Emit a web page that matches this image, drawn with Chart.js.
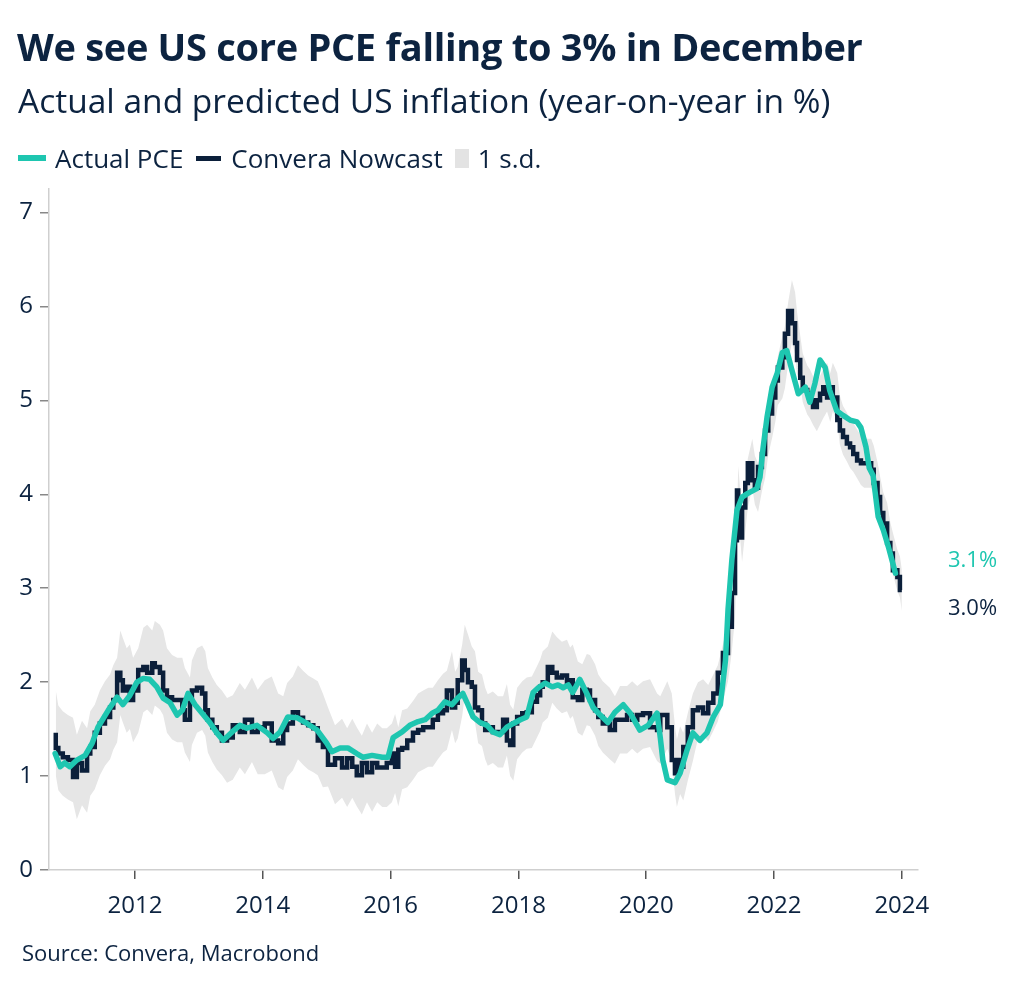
<!DOCTYPE html>
<html>
<head>
<meta charset="utf-8">
<script src="https://cdn.jsdelivr.net/npm/chart.js@4.4.1/dist/chart.umd.min.js"></script>
<style>
  html, body { margin:0; padding:0; background:#ffffff; }
  body { width:1024px; height:989px; position:relative; overflow:hidden; font-family:"Open Sans","Noto Sans",sans-serif; color:#0c2340; }
  #chart { position:absolute; left:0; top:0; }
  .txt { position:absolute; white-space:nowrap; }
  #title { left:17px; top:23px; font-size:38px; font-weight:700; line-height:46px; letter-spacing:-0.3px; }
  #subtitle { left:18px; top:80px; font-size:33.5px; font-weight:400; line-height:40px; }
  #legend { left:18px; top:142px; font-size:26px; line-height:32px; display:flex; align-items:center; }
  .sw { display:inline-block; }
  #source { left:22px; top:938px; font-size:22px; line-height:28px; }
</style>
</head>
<body>
<canvas id="chart" width="1024" height="989"></canvas>
<div class="txt" id="title">We see US core PCE falling to 3% in December</div>
<div class="txt" id="subtitle">Actual and predicted US inflation (year-on-year in %)</div>
<div class="txt" id="legend">
  <span class="sw" style="width:28px;height:6px;background:#1ec6b0;margin-right:9px;"></span><span>Actual PCE</span>
  <span class="sw" style="width:25px;height:5px;background:#0b1f3a;margin-left:13px;margin-right:10px;"></span><span>Convera Nowcast</span>
  <span class="sw" style="width:14px;height:19px;background:#e3e3e3;margin-left:12px;margin-right:9px;"></span><span>1 s.d.</span>
</div>
<div class="txt" id="source">Source: Convera, Macrobond</div>
<script>
// ---- Data (decimal years) ----
const xTickYears = [2012, 2014, 2016, 2018, 2020, 2022, 2024];
const yTickValues = [0, 1, 2, 3, 4, 5, 6, 7];

const pceYears = [2010.75,2010.83,2010.90,2010.98,2011.09,2011.22,2011.33,2011.42,2011.58,2011.72,2011.81,2011.92,
  2012.03,2012.13,2012.23,2012.34,2012.44,2012.55,2012.66,2012.74,2012.83,2012.94,
  2013.05,2013.17,2013.28,2013.38,2013.52,2013.64,2013.75,2013.91,
  2014.07,2014.16,2014.27,2014.39,2014.54,2014.69,2014.85,
  2015.00,2015.08,2015.21,2015.33,2015.47,2015.57,2015.71,2015.87,2015.96,
  2016.04,2016.18,2016.30,2016.43,2016.54,2016.65,2016.74,2016.85,2016.96,
  2017.05,2017.13,2017.21,2017.29,2017.40,2017.51,2017.60,2017.71,2017.82,2017.92,
  2018.03,2018.13,2018.23,2018.31,2018.42,2018.53,2018.62,2018.70,2018.78,2018.85,2018.96,
  2019.07,2019.17,2019.28,2019.40,2019.51,2019.64,2019.75,2019.90,
  2020.03,2020.17,2020.22,2020.26,2020.33,2020.45,2020.53,2020.64,2020.73,2020.84,2020.95,
  2021.05,2021.16,2021.24,2021.28,2021.34,2021.42,2021.50,2021.59,2021.73,2021.78,2021.83,2021.89,2021.97,
  2022.05,2022.13,2022.20,2022.28,2022.38,2022.49,2022.56,2022.64,2022.72,2022.80,2022.87,2022.98,
  2023.08,2023.19,2023.30,2023.36,2023.44,2023.49,2023.55,2023.63,2023.71,2023.79,2023.90];
const pceValues = [1.24,1.10,1.14,1.10,1.17,1.22,1.35,1.52,1.70,1.84,1.76,1.86,
  2.00,2.04,2.03,1.95,1.83,1.78,1.65,1.70,1.88,1.76,
  1.67,1.57,1.46,1.38,1.47,1.54,1.51,1.54,
  1.46,1.40,1.47,1.63,1.62,1.56,1.49,
  1.35,1.26,1.30,1.30,1.24,1.20,1.22,1.20,1.20,
  1.41,1.47,1.54,1.58,1.60,1.67,1.70,1.79,1.76,
  1.83,1.88,1.76,1.63,1.57,1.54,1.47,1.44,1.52,1.56,
  1.60,1.63,1.89,1.94,1.99,1.95,1.97,1.94,1.97,1.89,2.03,
  1.88,1.73,1.65,1.57,1.68,1.76,1.67,1.49,
  1.54,1.67,1.41,1.17,0.96,0.93,1.03,1.28,1.46,1.38,1.46,
  1.63,1.76,2.23,2.77,3.30,3.83,3.97,4.01,4.06,4.18,4.50,4.82,5.14,
  5.29,5.51,5.53,5.32,5.07,5.14,4.98,5.18,5.43,5.35,5.11,4.89,
  4.84,4.79,4.77,4.71,4.50,4.28,4.20,3.76,3.62,3.44,3.16];

const nowYears = [2010.76,2010.80,2010.87,2010.95,2011.03,2011.09,2011.17,2011.25,2011.30,2011.37,2011.45,2011.53,2011.61,2011.66,2011.72,2011.77,2011.81,2011.87,2011.92,2011.97,
  2012.05,2012.13,2012.19,2012.27,2012.31,2012.39,2012.44,2012.50,2012.58,2012.66,2012.74,2012.78,2012.86,2012.89,2012.97,
  2013.05,2013.10,2013.14,2013.21,2013.28,2013.36,2013.44,2013.53,2013.64,2013.72,2013.83,2013.92,
  2014.03,2014.14,2014.24,2014.32,2014.38,2014.47,2014.55,2014.63,2014.71,2014.79,2014.86,2014.94,
  2015.02,2015.13,2015.24,2015.32,2015.40,2015.47,2015.55,2015.63,2015.71,2015.79,2015.87,2015.94,
  2016.02,2016.07,2016.12,2016.18,2016.26,2016.35,2016.43,2016.51,2016.59,2016.66,2016.74,2016.82,2016.88,2016.96,
  2017.01,2017.05,2017.12,2017.16,2017.21,2017.27,2017.32,2017.37,2017.43,2017.48,2017.52,2017.60,2017.68,2017.76,2017.82,2017.87,2017.92,2017.98,
  2018.06,2018.13,2018.21,2018.29,2018.34,2018.38,2018.46,2018.53,2018.60,2018.68,2018.76,2018.81,2018.85,2018.93,
  2019.00,2019.07,2019.12,2019.20,2019.25,2019.32,2019.43,2019.51,2019.59,2019.70,2019.78,2019.86,2019.95,
  2020.06,2020.17,2020.22,2020.33,2020.40,2020.45,2020.48,2020.53,2020.58,2020.65,2020.73,2020.81,2020.89,2020.97,
  2021.05,2021.12,2021.20,2021.28,2021.34,2021.39,2021.42,2021.44,2021.50,2021.55,2021.59,2021.66,2021.70,2021.75,2021.81,2021.86,2021.91,2021.97,
  2022.02,2022.06,2022.13,2022.17,2022.22,2022.28,2022.33,2022.36,2022.41,2022.45,2022.52,2022.56,2022.61,2022.67,2022.72,2022.77,2022.83,2022.88,2022.92,2022.99,
  2023.03,2023.08,2023.14,2023.19,2023.24,2023.30,2023.36,2023.41,2023.52,2023.56,2023.62,2023.66,2023.71,2023.77,2023.82,2023.86,2023.93,2023.97,2024.00];
const nowValues = [1.46,1.30,1.24,1.20,1.17,0.99,1.14,1.06,1.24,1.31,1.46,1.56,1.63,1.73,1.81,2.10,2.02,1.91,1.95,1.81,
  1.91,2.13,2.16,2.10,2.20,2.16,2.10,1.91,1.84,1.81,1.81,1.70,1.60,1.78,1.91,
  1.94,1.88,1.70,1.60,1.52,1.46,1.38,1.41,1.54,1.47,1.60,1.47,
  1.52,1.56,1.38,1.35,1.49,1.56,1.68,1.62,1.57,1.54,1.51,1.38,
  1.31,1.12,1.19,1.09,1.19,1.10,1.01,1.14,1.04,1.14,1.09,1.09,
  1.14,1.24,1.10,1.28,1.30,1.38,1.46,1.49,1.52,1.52,1.60,1.67,1.70,1.91,
  1.73,1.78,2.02,2.23,2.13,2.00,1.95,1.73,1.70,1.56,1.49,1.52,1.47,1.47,1.60,1.38,1.33,1.56,
  1.63,1.67,1.68,1.79,1.86,1.95,2.00,2.16,2.10,2.05,2.07,1.99,2.02,1.84,
  1.81,1.92,1.91,1.81,1.70,1.63,1.56,1.49,1.60,1.60,1.65,1.60,1.65,
  1.67,1.52,1.49,1.65,1.52,1.17,1.03,1.17,1.10,1.31,1.52,1.70,1.73,1.67,
  1.78,1.88,2.10,2.31,2.59,2.95,3.51,4.04,3.54,3.86,4.12,4.33,4.15,4.07,4.29,4.43,4.68,4.86,
  5.03,5.21,5.35,5.46,5.71,5.95,5.82,5.61,5.43,5.24,5.11,5.07,5.00,4.93,5.00,5.07,5.14,5.03,5.14,5.03,
  4.79,4.68,4.61,4.54,4.50,4.43,4.36,4.33,4.33,4.26,4.12,3.97,3.80,3.69,3.48,3.37,3.19,3.12,2.98];

// Band half-width (1 s.d.) by period start year
const sdFromYear = [2010.7, 2013.0, 2014.0, 2015.0, 2017.0, 2019.5, 2020.8, 2021.3, 2022.1, 2022.4, 2023.6];
const sdWidth    = [0.45,   0.45,   0.50,   0.42,   0.38,   0.36,   0.30,   0.26,   0.33,   0.26,   0.22];

const endLabels = ['3.1%', '3.0%'];

// ---- Build datasets ----
const TEAL = '#1ec6b0', NAVY = '#0b1f3a', INK = '#0c2340';
const FONT = '"Open Sans", "Noto Sans", sans-serif';
function sdAt(yr) {
  let w = sdWidth[0];
  for (let i = 0; i < sdFromYear.length; i++) if (yr >= sdFromYear[i]) w = sdWidth[i];
  return w;
}
const pcePts = pceYears.map((x, i) => ({ x, y: pceValues[i] }));
const nowPts = nowYears.map((x, i) => ({ x, y: nowValues[i] }));
const hiPts = nowYears.map((x, i) => ({ x, y: nowValues[i] + sdAt(x) }));
const loPts = nowYears.map((x, i) => ({ x, y: nowValues[i] - sdAt(x) }));

const endLabelPlugin = {
  id: 'endLabels',
  afterDatasetsDraw(chart) {
    const { ctx, chartArea, scales } = chart;
    ctx.save();
    ctx.font = '22px ' + FONT;
    ctx.textAlign = 'left';
    ctx.textBaseline = 'middle';
    const x = chartArea.right + 30;
    ctx.fillStyle = TEAL;
    ctx.fillText(endLabels[0], x, scales.y.getPixelForValue(pceValues[pceValues.length - 1]) - 12);
    ctx.fillStyle = INK;
    ctx.fillText(endLabels[1], x, scales.y.getPixelForValue(nowValues[nowValues.length - 1]) + 19);
    ctx.restore();
  }
};

new Chart(document.getElementById('chart'), {
  type: 'line',
  data: {
    datasets: [
      { label: 'Actual PCE', data: pcePts, borderColor: TEAL, borderWidth: 5.5, pointRadius: 0, tension: 0, order: 0, borderJoinStyle: 'round', borderCapStyle: 'round' },
      { label: 'Convera Nowcast', data: nowPts, borderColor: NAVY, borderWidth: 4.5, pointRadius: 0, stepped: 'after', order: 1 },
      { label: '1 s.d. upper', data: hiPts, borderWidth: 0, borderColor: 'rgba(0,0,0,0)', backgroundColor: '#e6e6e6', pointRadius: 0, tension: 0, fill: 3, order: 2 },
      { label: '1 s.d. lower', data: loPts, borderWidth: 0, borderColor: 'rgba(0,0,0,0)', pointRadius: 0, tension: 0, fill: false, order: 3 }
    ]
  },
  options: {
    responsive: false,
    animation: false,
    devicePixelRatio: 1,
    layout: { padding: { top: 189, right: 106, left: 0, bottom: 0 } },
    plugins: { legend: { display: false }, tooltip: { enabled: false }, title: { display: false } },
    scales: {
      x: {
        type: 'linear', min: 2010.654, max: 2024.253,
        afterBuildTicks: (s) => { s.ticks = xTickYears.map(v => ({ value: v })); },
        afterFit: (s) => { s.height = 119; },
        ticks: { color: INK, font: { family: FONT, size: 24 }, padding: 13, maxRotation: 0, autoSkip: false, callback: (v) => String(v) },
        grid: { display: true, drawOnChartArea: false, drawTicks: true, tickLength: 9, color: '#555555', lineWidth: 1.5 },
        border: { display: true, color: '#cfcfcf', width: 1.5 }
      },
      y: {
        type: 'linear', min: 0, max: 7.25,
        afterBuildTicks: (s) => { s.ticks = yTickValues.map(v => ({ value: v })); },
        afterFit: (s) => { s.width = 49; },
        ticks: { color: INK, font: { family: FONT, size: 24 }, padding: 7, callback: (v) => String(v) },
        grid: { display: true, drawOnChartArea: false, drawTicks: true, tickLength: 9, color: '#888888', lineWidth: 1.5 },
        border: { display: true, color: '#cfcfcf', width: 1.5 }
      }
    }
  },
  plugins: [endLabelPlugin]
});
</script>
</body>
</html>
